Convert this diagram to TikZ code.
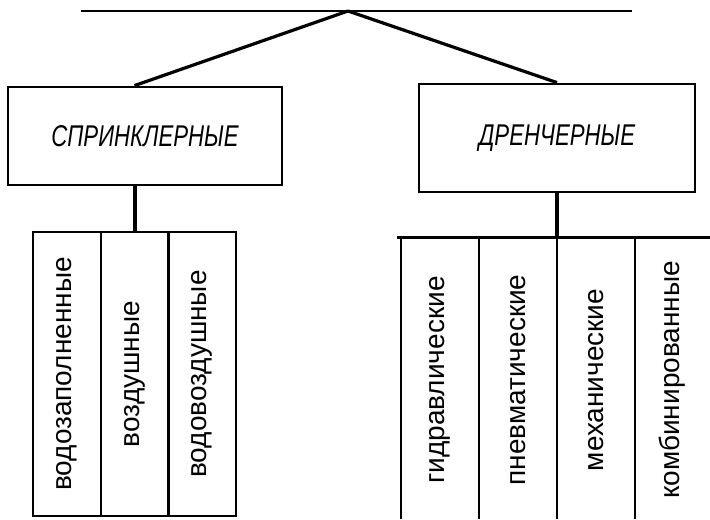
\documentclass[tikz,border=0pt]{standalone}
\usepackage{fontspec}
\setmainfont{Liberation Sans}
\usepackage{graphicx}
\usetikzlibrary{positioning,calc}
\newcommand{\kindtext}[1]{\scalebox{0.74}[1]{\itshape #1}}
\tikzset{
  kind/.style={draw, line width=1.4pt, inner sep=0pt,
    font=\fontsize{15}{17}\selectfont},
  col/.style={draw, line width=1pt, rotate=90, inner sep=0pt,
    minimum width=142pt, minimum height=34pt, font=\fontsize{14}{16}\selectfont},
  lab/.style={rotate=90, inner sep=0pt, font=\fontsize{14}{16}\selectfont},
  link/.style={line width=1.6pt},
}
\begin{document}
\begin{tikzpicture}[x=0.5pt,y=-0.5pt]
    \useasboundingbox (0,0) rectangle (710,519);

    % top line
    \coordinate (tl) at (81,11);
    \coordinate (tr) at (632,11);
    \coordinate (apex) at (348,11);
    \draw[line width=1pt] (tl) -- (tr);

    % the two kinds
    \node[kind, minimum width=137pt, minimum height=49pt] (spr) at (145,136) {\kindtext{СПРИНКЛЕРНЫЕ}};
    \node[kind, minimum width=138pt, minimum height=54pt] (dren) at (557,138) {\kindtext{ДРЕНЧЕРНЫЕ}};

    % sprinkler columns
    \node[col] (vzp) at (67,374) {водозаполненные};
    \node[col] (vzd) at (134.5,374) {воздушные};
    \node[col] (vvz) at (202,374) {водовоздушные};

    \draw[link] (apex) -- (spr.north -| vzd.east);
    \draw[link] (apex) -- (dren.north);
    \draw[line width=2pt] (spr.south -| vzd.east) -- (vzd.east);

    % drencher columns
    \coordinate (busl) at (397,237);
    \coordinate (busr) at (710,237);
    \draw[line width=1.5pt] (busl) -- (busr);
    \draw[link] (dren.south) -- (dren.south |- busl);
    \foreach \x in {401,479,557,635}
      \draw[line width=0.8pt] (\x,237) -- (\x,519);

    \node[lab] (gidr) at (440,380) {гидравлические};
    \node[lab] (pnev) at (518,380) {пневматические};
    \node[lab] (mech) at (596,380) {механические};
    \node[lab] (komb) at (672,380) {комбинированные};
  \end{tikzpicture}
\end{document}
